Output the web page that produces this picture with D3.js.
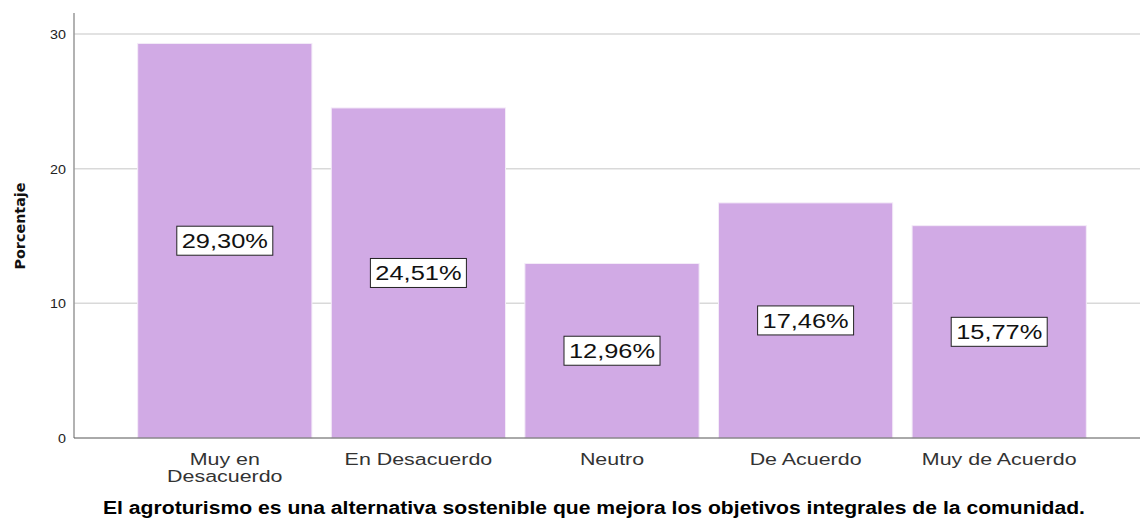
<!DOCTYPE html>
<head>
<meta charset="utf-8">
<style>
body { margin: 0; background: #fff; }
svg text { font-family: "Liberation Sans", Arial, sans-serif; }
.grid line { stroke: #d9d9d9; stroke-width: 1.5; }
.bar { fill: #d1aae5; stroke: #f4ecf8; stroke-width: 1; }
</style>
</head>
<body>
<script src="https://d3js.org/d3.v7.min.js"></script>
<script>

// Data
var categories = ["Muy en Desacuerdo", "En Desacuerdo", "Neutro", "De Acuerdo", "Muy de Acuerdo"];
var values = [29.30, 24.51, 12.96, 17.46, 15.77];
var yTicks = [0, 10, 20, 30];

var width = 1140, height = 519;
var axisX = 74, plotTop = 13, plotBottom = 438;

var svg = d3.select("body").append("svg")
    .attr("width", width)
    .attr("height", height);

var x = d3.scaleBand()
    .domain(categories)
    .range([128, 1096])
    .paddingInner(0.1)
    .paddingOuter(0.05);

var y = d3.scaleLinear()
    .domain([0, 30])
    .range([plotBottom, 34]);

// gridlines
svg.append("g")
    .attr("class", "grid")
    .selectAll("line")
    .data(yTicks.filter(function(d) { return d > 0; }))
  .enter().append("line")
    .attr("x1", axisX)
    .attr("x2", width)
    .attr("y1", function(d) { return y(d); })
    .attr("y2", function(d) { return y(d); });

// bars
svg.selectAll(".bar")
    .data(values)
  .enter().append("rect")
    .attr("class", "bar")
    .attr("x", function(d, i) { return x(categories[i]); })
    .attr("width", x.bandwidth())
    .attr("y", function(d) { return y(d); })
    .attr("height", function(d) { return plotBottom - y(d); });

// axes lines
svg.append("line")
    .attr("x1", axisX).attr("x2", axisX)
    .attr("y1", plotTop).attr("y2", plotBottom)
    .attr("stroke", "#999").attr("stroke-width", 1.5);
svg.append("line")
    .attr("x1", axisX).attr("x2", width)
    .attr("y1", plotBottom).attr("y2", plotBottom)
    .attr("stroke", "#555").attr("stroke-width", 1);

// wide text helper: horizontal stretch like the original renderer
function wide(sel, sx) {
  sel.attr("transform", "scale(" + sx + ",1)");
}

// y tick labels
svg.selectAll(".ytick")
    .data(yTicks)
  .enter().append("g")
    .attr("transform", function(d) { return "translate(66," + (y(d) + 5) + ")"; })
  .append("text")
    .attr("text-anchor", "end")
    .attr("font-size", 13)
    .attr("fill", "#222")
    .call(wide, 1.1)
    .text(function(d) { return d; });

// y title
svg.append("text")
    .attr("transform", "translate(25,226)rotate(-90)")
    .attr("text-anchor", "middle")
    .attr("font-size", 14)
    .attr("font-weight", "bold")
    .attr("textLength", 87)
    .attr("lengthAdjust", "spacingAndGlyphs")
    .style("font-family", "'Liberation Sans Narrow', 'DejaVu Sans Condensed', sans-serif")
    .attr("fill", "#111")
    .text("Porcentaje");

// x labels
svg.selectAll(".xlab")
    .data(categories)
  .enter().append("g")
    .attr("transform", function(d) { return "translate(" + (x(d) + x.bandwidth() / 2) + ",465)"; })
  .append("text")
    .attr("text-anchor", "middle")
    .attr("font-size", 17)
    .attr("fill", "#333")
    .call(wide, 1.26)
    .each(function(d) {
      var t = d3.select(this);
      var lines = d === "Muy en Desacuerdo" ? ["Muy en", "Desacuerdo"] : [d];
      lines.forEach(function(l, j) {
        t.append("tspan")
          .attr("x", 0)
          .attr("dy", j === 0 ? 0 : 17)
          .text(l);
      });
    });

// value labels
var labels = svg.selectAll(".vlab")
    .data(values)
  .enter().append("g")
    .attr("transform", function(d, i) {
      return "translate(" + (x(categories[i]) + x.bandwidth() / 2) + "," + y(d / 2) + ")";
    });
labels.append("rect")
    .attr("x", -48).attr("y", -14.5)
    .attr("width", 96).attr("height", 29)
    .attr("fill", "#fff")
    .attr("stroke", "#222")
    .attr("stroke-width", 1);
labels.append("text")
    .attr("text-anchor", "middle")
    .attr("y", 7.5)
    .attr("font-size", 20)
    .attr("fill", "#111")
    .call(wide, 1.27)
    .text(function(d) { return d.toFixed(2).replace(".", ",") + "%"; });

// title
var title = svg.append("text")
    .attr("x", 594)
    .attr("y", 514)
    .attr("text-anchor", "middle")
    .attr("font-size", 18)
    .attr("font-weight", "bold")
    .attr("fill", "#000")
    .text("El agroturismo es una alternativa sostenible que mejora los objetivos integrales de la comunidad.");
var tl = title.node().getComputedTextLength();
title.attr("textLength", Math.min(tl * 1.25, 982))
    .attr("lengthAdjust", "spacingAndGlyphs");

</script>
</body>
</html>
